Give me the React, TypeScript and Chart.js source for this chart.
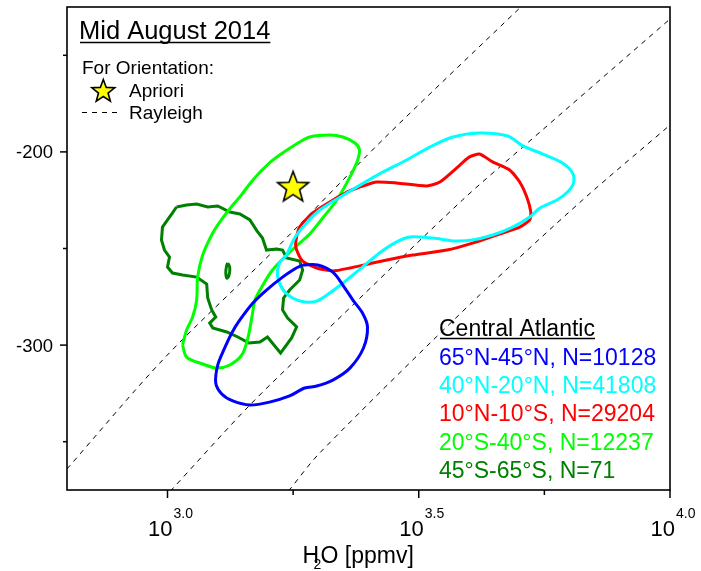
import React, { useEffect, useRef } from "react";
import { Chart, registerables } from "chart.js";

Chart.register(...registerables);

const FONT = '"Liberation Sans", Arial, Helvetica, sans-serif';

// Contour outlines, each point is [log10(H2O / ppmv), δD (‰)]
const nh65_45: [number, number][] = [
  [3.269, -258.5], [3.299, -258.5], [3.329, -262.2], [3.349, -268.9], [3.369, -276.7],
  [3.388, -283.4], [3.398, -290.6], [3.390, -301.5], [3.363, -311.9], [3.329, -318.1],
  [3.297, -321.2], [3.273, -322.2], [3.243, -326.3], [3.203, -329.5], [3.164, -331],
  [3.130, -328.9], [3.108, -325.3], [3.096, -319.6], [3.100, -310.3], [3.112, -302.5],
  [3.128, -293.7], [3.144, -287], [3.170, -278.2], [3.197, -271.5], [3.229, -264.8],
  [3.253, -260.6], [3.269, -258.5],
];

const nh40_20: [number, number][] = [
  [3.237, -253.4], [3.253, -244.6], [3.273, -237.8], [3.303, -230.1], [3.357, -221.3],
  [3.422, -211.4], [3.476, -204.2], [3.522, -197.5], [3.568, -192.3], [3.621, -190.2],
  [3.677, -191.8], [3.707, -196.9], [3.747, -201.1], [3.786, -205.7], [3.806, -210.9],
  [3.808, -216.1], [3.798, -220.2], [3.775, -224.9], [3.741, -229], [3.721, -233.7],
  [3.687, -238.9], [3.647, -243], [3.607, -245.6], [3.572, -246.1], [3.528, -244.6],
  [3.482, -244], [3.456, -246.6], [3.422, -252.3], [3.388, -259.6], [3.357, -266.3],
  [3.323, -273], [3.297, -277.2], [3.273, -277.7], [3.249, -275.6], [3.229, -271],
  [3.219, -264.2], [3.223, -257.5], [3.237, -253.4],
];

const n10_s10: [number, number][] = [
  [3.382, -218.2], [3.416, -215.6], [3.456, -216.1], [3.516, -217.6], [3.542, -215.6],
  [3.582, -206.8], [3.601, -202.6], [3.621, -201.1], [3.647, -205.2], [3.681, -209.4],
  [3.701, -215.6], [3.715, -223.3], [3.723, -231.1], [3.721, -235.2], [3.701, -238.9],
  [3.655, -243], [3.607, -247.2], [3.556, -250.8], [3.488, -253.4], [3.456, -254.9],
  [3.408, -257.5], [3.363, -260.1], [3.329, -261.6], [3.297, -260.1], [3.269, -256.5],
  [3.257, -250.8], [3.255, -247.2], [3.263, -238.9], [3.289, -231.6], [3.323, -225.9],
  [3.357, -220.8], [3.382, -218.2],
];

const sh20_40: [number, number][] = [
  [3.030, -299.9], [3.038, -306.2], [3.070, -309.8], [3.098, -311.9], [3.124, -310.3],
  [3.148, -305.1], [3.160, -296.3], [3.168, -285.5], [3.174, -276.7], [3.184, -271.5],
  [3.209, -261.1], [3.249, -250.5], [3.283, -242.5], [3.309, -234.2], [3.337, -224.9],
  [3.360, -214.5], [3.377, -205.2], [3.382, -199], [3.373, -195.4], [3.349, -192.3],
  [3.323, -191.3], [3.283, -192.3], [3.263, -194.9], [3.229, -200.6], [3.203, -205.7],
  [3.170, -214.5], [3.144, -223.3], [3.130, -227.5], [3.104, -236.3], [3.090, -242],
  [3.070, -253.4], [3.060, -264.8], [3.058, -276.7], [3.050, -285.5], [3.038, -292.2],
  [3.030, -299.9],
];

const sh45_65: [number, number][] = [
  [3.018, -228.5], [3.038, -227.5], [3.058, -227], [3.080, -228.5], [3.100, -228],
  [3.124, -231.1], [3.144, -232.1], [3.164, -235.2], [3.178, -240.9], [3.189, -244.6],
  [3.197, -250.8], [3.217, -250.3], [3.229, -250.8], [3.237, -254.9], [3.263, -256.5],
  [3.269, -261.1], [3.263, -266.3], [3.243, -271.5], [3.231, -275.6], [3.229, -281.8],
  [3.239, -286], [3.257, -290.6], [3.247, -296.3], [3.225, -304.1], [3.207, -298.4],
  [3.199, -295.8], [3.184, -298.4], [3.162, -298.9], [3.140, -295.8], [3.118, -293.2],
  [3.090, -291.1], [3.084, -288.6], [3.096, -285.5], [3.088, -281.8], [3.080, -275.6],
  [3.078, -268.4], [3.058, -264.8], [3.030, -263.7], [3.010, -262.7], [3.000, -259.6],
  [3.004, -254.4], [2.994, -250.8], [2.988, -245.6], [2.990, -238.9], [3.000, -235.2],
  [3.010, -231.6], [3.018, -228.5],
];

// small isolated 45°S-65°S island
const sh45_65_island: [number, number][] = [
  [3.120, -257.5], [3.124, -260.1], [3.122, -264.2], [3.118, -265.3], [3.116, -262.2],
  [3.118, -258.6], [3.120, -257.5],
];

// Rayleigh distillation curves
const rayleighA: [number, number][] = [
  [2.8, -364.1], [2.994, -306.7], [3.217, -249.7], [3.428, -193.8], [3.703, -125],
];
const rayleighB: [number, number][] = [
  [3.006, -375.5], [3.164, -331], [3.303, -295.8], [3.587, -224.9], [3.707, -197.5], [4.0, -131.2],
];
const rayleighC: [number, number][] = [
  [3.241, -375.5], [3.303, -355.8], [3.621, -274.1], [3.826, -224.9], [4.0, -186.1],
];

// a priori state
const apriori: [number, number] = [3.25, -218];

const xMajorTicks = [3.0, 3.5, 4.0];
const xMinorTicks = [3.25, 3.75];
const yMajorTicks = [-200, -300];
const yMinorTicks = [-150, -250, -350];

const regionTitle = "Central Atlantic";
const regionLabels = [
  "65°N-45°N, N=10128",
  "40°N-20°N, N=41808",
  "10°N-10°S, N=29204",
  "20°S-40°S, N=12237",
  "45°S-65°S, N=71",
];
const regionColors = ["#0000ff", "#00ffff", "#ff0000", "#00ff00", "#008000"];

const toXY = (pts: [number, number][]) => pts.map(([lq, d]) => ({ x: Math.pow(10, lq), y: d }));

function starPath(ctx: CanvasRenderingContext2D, cx: number, cy: number, R: number) {
  const r = R * 0.42;
  ctx.beginPath();
  for (let i = 0; i < 10; i++) {
    const a = -Math.PI / 2 + (i * Math.PI) / 5;
    const rad = i % 2 === 0 ? R : r;
    const px = cx + rad * Math.cos(a);
    const py = cy + rad * Math.sin(a);
    if (i === 0) ctx.moveTo(px, py);
    else ctx.lineTo(px, py);
  }
  ctx.closePath();
}

function drawStar(ctx: CanvasRenderingContext2D, cx: number, cy: number, R: number) {
  starPath(ctx, cx, cy, R);
  ctx.fillStyle = "#ffff00";
  ctx.fill();
  ctx.lineWidth = 1.6;
  ctx.strokeStyle = "#000";
  ctx.setLineDash([]);
  ctx.stroke();
}

const decorations = {
  id: "decorations",
  afterDraw(chart: any) {
    const { ctx, chartArea: a, scales } = chart;
    const xs = scales.x;
    const ys = scales.y;
    ctx.save();
    ctx.setLineDash([]);
    ctx.strokeStyle = "#000";
    ctx.fillStyle = "#000";

    // frame
    ctx.lineWidth = 1.6;
    ctx.strokeRect(a.left, a.top, a.right - a.left, a.bottom - a.top);

    // tick marks
    ctx.lineWidth = 1.5;
    const tick = (x1: number, y1: number, x2: number, y2: number) => {
      ctx.beginPath();
      ctx.moveTo(x1, y1);
      ctx.lineTo(x2, y2);
      ctx.stroke();
    };
    xMajorTicks.forEach((t) => {
      const px = xs.getPixelForValue(Math.pow(10, t));
      tick(px, a.bottom, px, a.bottom + 8);
    });
    xMinorTicks.forEach((t) => {
      const px = xs.getPixelForValue(Math.pow(10, t));
      tick(px, a.bottom, px, a.bottom + 5);
    });
    yMajorTicks.forEach((t) => {
      const py = ys.getPixelForValue(t);
      tick(a.left - 7, py, a.left, py);
    });
    yMinorTicks.forEach((t) => {
      const py = ys.getPixelForValue(t);
      tick(a.left - 4, py, a.left, py);
    });

    // x tick labels: 10^exponent
    xMajorTicks.forEach((t) => {
      const px = xs.getPixelForValue(Math.pow(10, t));
      ctx.font = `22px ${FONT}`;
      ctx.textAlign = "right";
      ctx.textBaseline = "alphabetic";
      ctx.fillText("10", px + 5, 536);
      ctx.font = `14px ${FONT}`;
      ctx.textAlign = "left";
      ctx.fillText(t.toFixed(1), px + 6, 518);
    });

    // y tick labels
    ctx.font = `18.5px ${FONT}`;
    ctx.textAlign = "right";
    yMajorTicks.forEach((t) => {
      const py = ys.getPixelForValue(t);
      ctx.fillText(String(t), 53, py + 6.5);
    });

    // x axis title
    ctx.textAlign = "left";
    ctx.font = `23px ${FONT}`;
    ctx.fillText("H", 302.5, 562.5);
    ctx.font = `14px ${FONT}`;
    ctx.fillText("2", 313.5, 569);
    ctx.font = `23px ${FONT}`;
    ctx.fillText("O [ppmv]", 320.5, 562.5);

    // title
    ctx.font = `25.5px ${FONT}`;
    ctx.fillText("Mid August 2014", 79, 39);
    const tw = ctx.measureText("Mid August 2014").width;
    ctx.lineWidth = 1.5;
    tick(80, 42.5, 80 + tw - 1, 42.5);

    // orientation legend
    ctx.font = `19px ${FONT}`;
    ctx.fillText("For Orientation:", 82, 74);
    drawStar(ctx, 103.3, 91.5, 12);
    ctx.fillStyle = "#000";
    ctx.fillText("Apriori", 129, 97);
    ctx.lineWidth = 1;
    ctx.setLineDash([5, 5]);
    tick(82, 112.5, 122, 112.5);
    ctx.setLineDash([]);
    ctx.fillText("Rayleigh", 129, 119);

    // region legend
    ctx.font = `23px ${FONT}`;
    ctx.fillStyle = "#000";
    ctx.fillText(regionTitle, 439, 336);
    const cw = ctx.measureText(regionTitle).width;
    ctx.lineWidth = 1.5;
    tick(440, 338.5, 439 + cw, 338.5);
    regionLabels.forEach((lbl, i) => {
      ctx.fillStyle = regionColors[i];
      ctx.fillText(lbl, 439, 365 + i * 28.2);
    });

    ctx.restore();
  },
};

export default function App() {
  const ref = useRef<HTMLCanvasElement | null>(null);

  useEffect(() => {
    const canvas = ref.current;
    if (!canvas) return;

    const starImg = document.createElement("canvas");
    starImg.width = 40;
    starImg.height = 40;
    const sctx = starImg.getContext("2d")!;
    drawStar(sctx, 20, 21, 16.3);

    const contour = (label: string, pts: [number, number][], color: string, tension: number, order: number) => ({
      label,
      data: toXY(pts),
      showLine: true,
      borderColor: color,
      backgroundColor: color,
      borderWidth: 3,
      pointRadius: 0,
      tension,
      fill: false,
      order,
    });
    const rayleigh = (pts: [number, number][]) => ({
      label: "Rayleigh",
      data: toXY(pts),
      showLine: true,
      borderColor: "#000",
      borderWidth: 1,
      borderDash: [5, 5],
      pointRadius: 0,
      tension: 0.3,
      fill: false,
      order: 10,
    });

    const chart = new Chart(canvas, {
      type: "scatter",
      data: {
        datasets: [
          rayleigh(rayleighA),
          rayleigh(rayleighB),
          rayleigh(rayleighC),
          contour(regionLabels[4], sh45_65, regionColors[4], 0, 5),
          contour(regionLabels[4], sh45_65_island, regionColors[4], 0.4, 5),
          contour(regionLabels[3], sh20_40, regionColors[3], 0.3, 4),
          contour(regionLabels[2], n10_s10, regionColors[2], 0.2, 3),
          contour(regionLabels[1], nh40_20, regionColors[1], 0.3, 2),
          contour(regionLabels[0], nh65_45, regionColors[0], 0.3, 1),
          {
            label: "Apriori",
            data: toXY([apriori]),
            pointStyle: starImg as any,
            pointRadius: 16,
            showLine: false,
            order: 0,
          } as any,
        ],
      },
      options: {
        animation: false,
        responsive: false,
        maintainAspectRatio: false,
        events: [],
        layout: { autoPadding: false, padding: { left: 67, right: 31, top: 7, bottom: 81 } },
        plugins: { legend: { display: false }, tooltip: { enabled: false } },
        scales: {
          x: { type: "logarithmic", min: Math.pow(10, 2.8), max: 1e4, display: false },
          y: { type: "linear", min: -375, max: -125, display: false },
        },
      },
      plugins: [decorations],
    });

    return () => chart.destroy();
  }, []);

  return (
    <div style={{ position: "absolute", left: 0, top: 0, width: 701, height: 571, background: "#fff" }}>
      <canvas ref={ref} width={701} height={571} style={{ display: "block" }} />
    </div>
  );
}
